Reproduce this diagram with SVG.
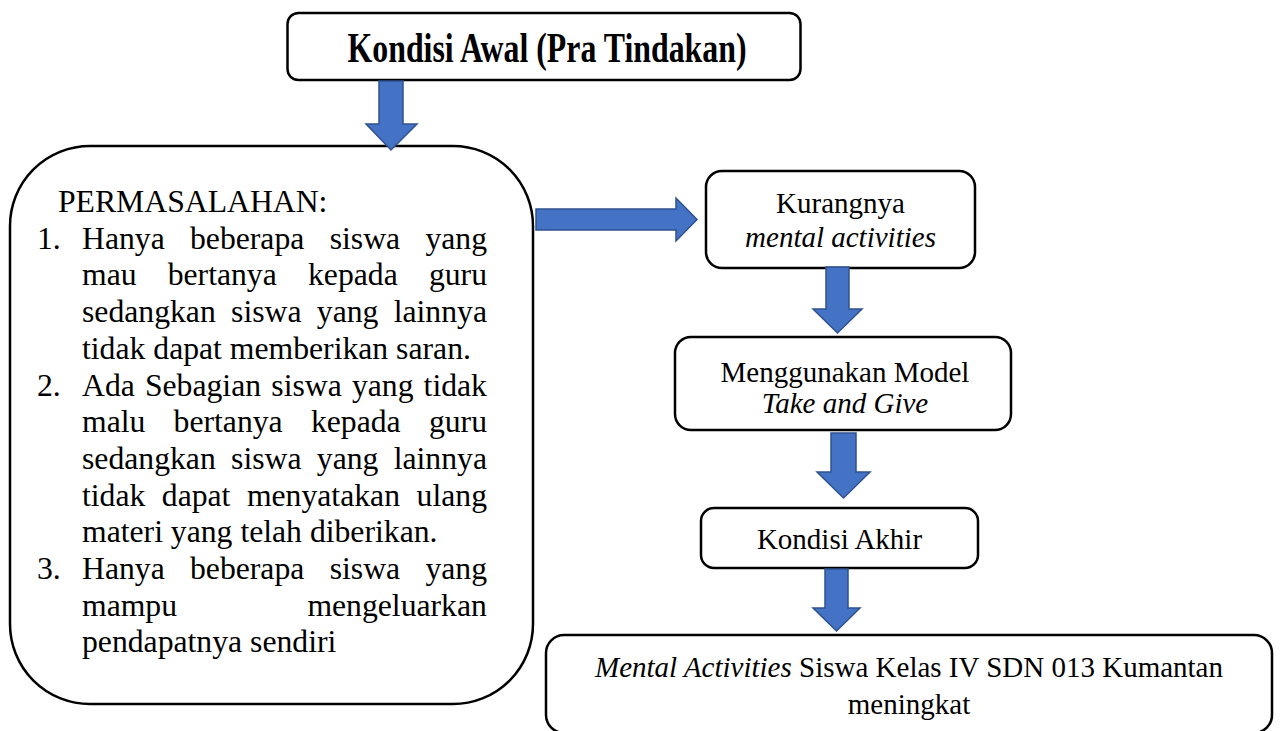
<svg xmlns="http://www.w3.org/2000/svg" width="1280" height="731" viewBox="0 0 1280 731">
<style>
.box{fill:#fff;stroke:#000;stroke-width:2.5}
.arr{fill:#4472C4;stroke:#2F528F;stroke-width:1.5;stroke-linejoin:miter}
text{font-family:"Liberation Serif","Times New Roman",serif;fill:#000}
.lt{font-size:31.7px}
.rt{font-size:29px;text-anchor:middle}
.it{font-style:italic}
</style>
<rect width="1280" height="731" fill="#fff"/>
<g id="node-kondisi-awal">
<rect class="box" x="287.5" y="13" width="513" height="67" rx="11"/>
<text x="547" y="62" font-size="42" font-weight="bold" text-anchor="middle" textLength="399" lengthAdjust="spacingAndGlyphs">Kondisi Awal (Pra Tindakan)</text>
</g>
<g id="node-permasalahan">
<rect class="box" x="10" y="146" width="523" height="558" rx="80"/>
<text class="lt" x="58" y="212">PERMASALAHAN:</text>
<text class="lt" y="248.7"><tspan x="37">1.</tspan><tspan x="82">Hanya</tspan><tspan x="190">beberapa</tspan><tspan x="329.7">siswa</tspan><tspan x="425.4">yang</tspan></text>
<text class="lt" y="285.4"><tspan x="82">mau</tspan><tspan x="167.7">bertanya</tspan><tspan x="308">kepada</tspan><tspan x="428.9">guru</tspan></text>
<text class="lt" y="322.1"><tspan x="82">sedangkan</tspan><tspan x="231.1">siswa</tspan><tspan x="316.8">yang</tspan><tspan x="393.7">lainnya</tspan></text>
<text class="lt" x="82" y="358.8">tidak dapat memberikan saran.</text>
<text class="lt" y="395.5"><tspan x="37">2.</tspan><tspan x="82">Ada</tspan><tspan x="144.9">Sebagian</tspan><tspan x="271.3">siswa</tspan><tspan x="351.9">yang</tspan><tspan x="423.6">tidak</tspan></text>
<text class="lt" y="432.2"><tspan x="82">malu</tspan><tspan x="173.6">bertanya</tspan><tspan x="310.9">kepada</tspan><tspan x="428.9">guru</tspan></text>
<text class="lt" y="468.9"><tspan x="82">sedangkan</tspan><tspan x="231.1">siswa</tspan><tspan x="316.8">yang</tspan><tspan x="393.7">lainnya</tspan></text>
<text class="lt" y="505.6"><tspan x="82">tidak</tspan><tspan x="161.8">dapat</tspan><tspan x="246.9">menyatakan</tspan><tspan x="416.6">ulang</tspan></text>
<text class="lt" x="82" y="542.3">materi yang telah diberikan.</text>
<text class="lt" y="579"><tspan x="37">3.</tspan><tspan x="82">Hanya</tspan><tspan x="190">beberapa</tspan><tspan x="329.7">siswa</tspan><tspan x="425.4">yang</tspan></text>
<text class="lt" y="615.7"><tspan x="82">mampu</tspan><tspan x="307.4">mengeluarkan</tspan></text>
<text class="lt" x="82" y="652.4">pendapatnya sendiri</text>
</g>
<g id="node-kurangnya">
<rect class="box" x="706" y="171" width="269" height="97" rx="16"/>
<text class="rt" x="840.5" y="213">Kurangnya</text>
<text class="rt it" x="840.5" y="247">mental activities</text>
</g>
<g id="node-menggunakan">
<rect class="box" x="675" y="337" width="336" height="93" rx="16"/>
<text class="rt" x="845" y="382">Menggunakan Model</text>
<text class="rt it" x="845" y="413">Take and Give</text>
</g>
<g id="node-kondisi-akhir">
<rect class="box" x="701" y="508" width="277" height="60" rx="13"/>
<text class="rt" x="839.5" y="549">Kondisi Akhir</text>
</g>
<g id="node-mental-activities">
<rect class="box" x="546" y="635" width="726" height="98" rx="18"/>
<text class="rt" x="909" y="677"><tspan class="it">Mental Activities</tspan> Siswa Kelas IV SDN 013 Kumantan</text>
<text class="rt" x="909" y="714">meningkat</text>
</g>
<g id="connectors">
<path class="arr" d="M379,81 H403 V124 H417 L391,150 L366,124 H379 Z"/>
<path class="arr" d="M536,209 H676 V198 L697,219.5 L676,241 V230 H536 Z"/>
<path class="arr" d="M826,267 H849 V309 H862 L837.5,333 L813,309 H826 Z"/>
<path class="arr" d="M831,433 H856 V472 H870 L843.5,498 L817,472 H831 Z"/>
<path class="arr" d="M825,569 H848 V608 H860 L836.5,631 L813,608 H825 Z"/>
</g>
</svg>
